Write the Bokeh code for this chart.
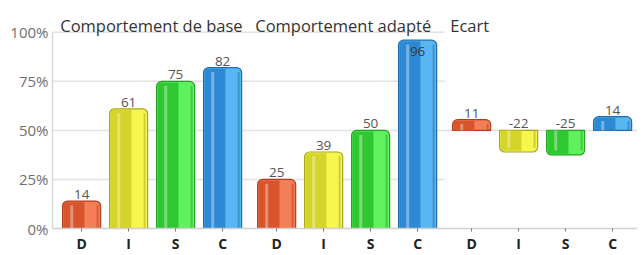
from bokeh.plotting import figure
from bokeh.models import ColumnDataSource, Range1d, FixedTicker
from bokeh.core.properties import value
from bokeh.embed import file_html
from bokeh.resources import INLINE

# ---- data ----
groups = ["Comportement de base", "Comportement adapté", "Ecart"]
letters = ["D", "I", "S", "C"]
base_values = [14, 61, 75, 82]
adapted_values = [25, 39, 50, 96]
ecart_values = [11, -22, -25, 14]
y_ticks = [0, 25, 50, 75, 100]
y_tick_labels = ["0%", "25%", "50%", "75%", "100%"]

outline_colors = ["#b23c1d", "#a6a61c", "#23a323", "#1d6cae"]
dark_colors = ["#d8542c", "#d4d42a", "#30c830", "#2d89d4"]
light_colors = ["#f47e58", "#f6f650", "#60f060", "#58b6f2"]

# ---- layout constants ----
GROUP_STEP = 4.15
OFFSET = 0.62
BAR_W = 0.81
X_END = 12.45
Y_TOP = 116.2
ECART_BASE = 50
FONT = "Open Sans"

p = figure(width=637, height=255, output_backend="svg", toolbar_location=None,
           x_range=Range1d(0, X_END), y_range=Range1d(0, Y_TOP),
           min_border_left=52, min_border_right=0, min_border_top=0,
           min_border_bottom=26)
p.outline_line_color = None
p.background_fill_color = "white"
p.border_fill_color = "white"
p.xgrid.visible = False
p.ygrid.visible = False

# ---- gridlines (panels 1-2, baseline of panel 3) ----
split = 2 * GROUP_STEP + OFFSET - 0.5 - (GROUP_STEP - 4) / 2
p.segment(x0=[0] * 4, x1=[split] * 4, y0=y_ticks[1:], y1=y_ticks[1:],
          line_color="#e2e2e2", line_width=1.5)
p.segment(x0=[split], x1=[X_END], y0=[ECART_BASE], y1=[ECART_BASE],
          line_color="#dddddd", line_width=1.5)

# ---- build bar data ----
pos = dict(x=[], top=[], bottom=[], dark=[], light=[], outline=[], label=[], ly=[])
neg = dict(x=[], top=[], bottom=[], dark=[], light=[], outline=[], label=[], ly=[])
inside = dict(x=[], y=[], label=[])
series = [base_values, adapted_values, ecart_values]
for g, vals in enumerate(series):
    for i, v in enumerate(vals):
        x = g * GROUP_STEP + i + OFFSET
        if g < 2:
            b, t = 0, v
        else:
            b, t = ECART_BASE, ECART_BASE + v / 2
        d = pos if t >= b else neg
        d["x"].append(x)
        d["top"].append(max(t, b))
        d["bottom"].append(min(t, b))
        d["dark"].append(dark_colors[i])
        d["light"].append(light_colors[i])
        d["outline"].append(outline_colors[i])
        d["label"].append(str(v))
        d["ly"].append(max(t, b))
        if g < 2 and v > 90:
            d["label"][-1] = ""
            inside["x"].append(x)
            inside["y"].append(v)
            inside["label"].append(str(v))

R = 5
for d, rad, hl_top_inset, hl_bot_inset in [(pos, (R, R, 0, 0), 2.2, 0.0), (neg, (0, 0, R, R), 0.0, 2.2)]:
    src = ColumnDataSource(dict(
        x=d["x"], top=d["top"], bottom=d["bottom"], dark=d["dark"], light=d["light"],
        outline=d["outline"],
        xl=[x - BAR_W * 0.2 for x in d["x"]],
        xh=[x - BAR_W * 0.26 for x in d["x"]],
        top_in=[t - 0.6 if rad[0] else t for t in d["top"]],
        bot_in=[b + 0.6 if rad[2] else b for b in d["bottom"]],
        top_hl=[t - hl_top_inset for t in d["top"]],
        bot_hl=[b + hl_bot_inset for b in d["bottom"]],
        xr=[x + BAR_W * 0.42 for x in d["x"]],
    ))
    p.vbar(x="x", top="top", bottom="bottom", width=BAR_W, source=src,
           fill_color="light", line_color="outline", line_width=1.2, border_radius=rad)
    left_rad = (R - 1, 0, 0, 0) if rad[0] else (0, 0, 0, R - 1)
    p.vbar(x="xl", top="top_in", bottom="bot_in", width=BAR_W * 0.55, source=src,
           fill_color="dark", line_color=None, border_radius=left_rad)
    p.vbar(x="xh", top="top_hl", bottom="bot_hl", width=BAR_W * 0.08, source=src,
           fill_color="white", fill_alpha=0.35, line_color=None)
    p.vbar(x="xr", top="top_hl", bottom="bot_hl", width=BAR_W * 0.05, source=src,
           fill_color="outline", fill_alpha=0.5, line_color=None)
    lsrc = ColumnDataSource(dict(x=d["x"], y=d["ly"], label=d["label"]))
    p.text(x="x", y="y", text="label", source=lsrc, text_align="center",
           text_baseline="bottom", y_offset=-2, text_font=value(FONT),
           text_font_size="13.5px", text_color="#555555")

p.text(x=inside["x"], y=inside["y"], text=inside["label"], text_align="center",
       text_baseline="top", y_offset=7, text_font=value(FONT),
       text_font_size="13.5px", text_color="#3a3a3a")

# ---- panel titles ----
title_x = [g * GROUP_STEP + OFFSET - BAR_W / 2 - 0.05 for g in range(3)]
p.text(x=title_x, y=[100] * 3, text=groups, text_align="left", text_baseline="alphabetic",
       y_offset=-7, text_font=value(FONT), text_font_size="16.5px", text_color="#333333")

# ---- axes ----
xt = [g * GROUP_STEP + i + OFFSET for g in range(3) for i in range(4)]
p.xaxis.ticker = FixedTicker(ticks=xt)
p.xaxis.major_label_overrides = {x: letters[k % 4] for k, x in enumerate(xt)}
p.xaxis.major_label_text_font = FONT
p.xaxis.major_label_text_font_style = "bold"
p.xaxis.major_label_text_font_size = "14px"
p.xaxis.major_label_text_color = "#222222"
p.xaxis.axis_line_color = "#d0d0d0"
p.xaxis.axis_line_width = 1.5
p.xaxis.major_tick_line_color = "#777777"
p.xaxis.major_tick_out = 3
p.xaxis.major_tick_in = 0
p.xaxis.minor_tick_line_color = None
p.xaxis.major_label_standoff = 2

p.yaxis.ticker = FixedTicker(ticks=y_ticks)
p.yaxis.major_label_overrides = dict(zip(y_ticks, y_tick_labels))
p.yaxis.bounds = (0, 100)
p.yaxis.major_label_text_font = FONT
p.yaxis.major_label_text_font_size = "15px"
p.yaxis.major_label_text_color = "#707070"
p.yaxis.axis_line_color = "#d8d8d8"
p.yaxis.axis_line_width = 1.5
p.yaxis.major_tick_line_color = None
p.yaxis.major_tick_out = 0
p.yaxis.major_tick_in = 0
p.yaxis.minor_tick_line_color = None
p.yaxis.major_label_standoff = 4

open("out.html", "w").write(file_html(p, INLINE))
